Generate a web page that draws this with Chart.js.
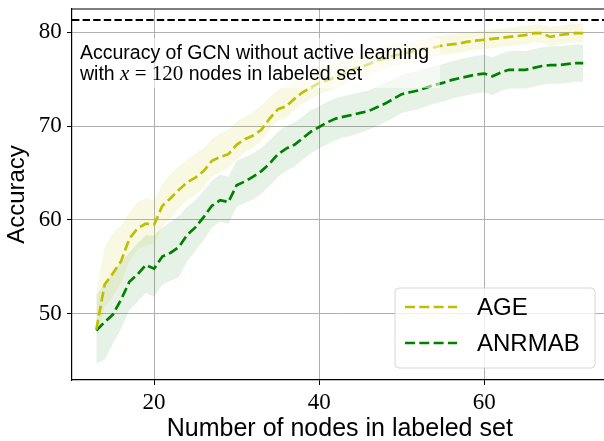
<!DOCTYPE html>
<html>
<head>
<meta charset="utf-8">
<script src="https://cdn.jsdelivr.net/npm/chart.js@4.4.0/dist/chart.umd.min.js"></script>
<style>
  html, body { margin: 0; padding: 0; background: #fff; overflow: hidden; }
  #wrap { width: 612px; height: 441px; }
</style>
</head>
<body>
<div id="wrap"><canvas id="chart" width="612" height="441"></canvas></div>
<script>
// DATA

const nodes = [
  13, 14, 15, 16, 17, 18, 19, 20, 21, 22, 23, 24, 25, 26, 27, 28, 29, 30, 31, 32,
  33, 34, 35, 36, 37, 38, 39, 40, 41, 42, 43, 44, 45, 46, 47, 48, 49, 50, 51, 52,
  53, 54, 55, 56, 57, 58, 59, 60, 61, 62, 63, 64, 65, 66, 67, 68, 69, 70, 71, 72,
];

const ageMean = [
  48.3, 53.1, 54.3, 55.6, 58.0, 59.1, 59.6, 59.5, 61.5, 62.3, 63.2, 64.0, 64.5, 65.2, 66.3, 66.7, 67.0, 68.0, 68.6, 69.0,
  69.6, 70.8, 71.8, 72.1, 72.9, 73.6, 74.1, 74.6, 74.9, 75.2, 75.6, 76.0, 76.3, 76.6, 77.0, 77.2, 77.5, 77.7, 77.9, 78.1,
  78.3, 78.4, 78.6, 78.7, 78.8, 79.0, 79.1, 79.2, 79.3, 79.4, 79.5, 79.6, 79.7, 79.9, 79.9, 79.5, 79.7, 79.8, 79.9, 79.9,
];

const ageUpper = [
  52.2, 57.1, 58.6, 59.4, 60.8, 61.9, 62.3, 62.1, 63.8, 64.9, 65.7, 66.4, 67.1, 67.6, 68.6, 69.2, 69.6, 70.5, 71.0, 71.5,
  72.2, 73.1, 73.9, 74.3, 74.9, 75.5, 75.9, 76.3, 76.6, 76.9, 77.2, 77.5, 77.8, 78.0, 78.3, 78.5, 78.7, 78.9, 79.1, 79.2,
  79.4, 79.5, 79.7, 79.8, 79.9, 80.0, 80.1, 80.2, 80.3, 80.4, 80.5, 80.6, 80.7, 80.8, 80.8, 80.6, 80.7, 80.8, 80.9, 80.9,
];

const ageLower = [
  47.5, 50.6, 51.8, 53.3, 55.6, 56.8, 57.3, 57.4, 59.3, 60.2, 61.2, 62.1, 62.7, 63.4, 64.6, 65.1, 65.5, 66.5, 67.2, 67.7,
  68.4, 69.6, 70.6, 70.9, 71.7, 72.4, 72.9, 73.4, 73.7, 74.0, 74.4, 74.8, 75.1, 75.4, 75.8, 76.1, 76.4, 76.6, 76.8, 77.0,
  77.2, 77.4, 77.6, 77.7, 77.8, 78.0, 78.1, 78.2, 78.3, 78.4, 78.5, 78.6, 78.7, 78.9, 78.9, 78.5, 78.7, 78.8, 78.9, 78.9,
];

const anrmabMean = [
  48.2, 49.1, 49.9, 51.5, 53.4, 54.2, 55.2, 54.8, 56.1, 56.5, 57.1, 58.4, 59.2, 60.3, 61.5, 62.1, 61.9, 63.7, 64.1, 64.6,
  65.2, 66.0, 67.0, 67.6, 68.0, 68.7, 69.4, 69.9, 70.4, 70.8, 71.0, 71.2, 71.4, 71.6, 72.0, 72.4, 72.9, 73.4, 73.6, 73.8,
  74.1, 74.4, 74.6, 74.9, 75.1, 75.3, 75.5, 75.6, 75.3, 75.7, 76.0, 76.0, 76.0, 76.2, 76.4, 76.5, 76.5, 76.6, 76.7, 76.7,
];

const anrmabUpper = [
  52.0, 53.2, 54.3, 55.6, 56.5, 57.5, 58.4, 58.3, 59.2, 59.8, 60.4, 61.4, 62.1, 63.1, 64.2, 64.8, 64.6, 66.3, 66.7, 67.1,
  67.7, 68.5, 69.4, 70.0, 70.4, 71.0, 71.7, 72.1, 72.6, 73.0, 73.2, 73.4, 73.6, 73.8, 74.2, 74.6, 75.0, 75.5, 75.7, 75.9,
  76.2, 76.4, 76.6, 76.9, 77.1, 77.3, 77.5, 77.6, 77.3, 77.7, 78.0, 78.0, 78.0, 78.2, 78.4, 78.5, 78.5, 78.6, 78.7, 78.7,
];

const anrmabLower = [
  44.7, 45.1, 46.8, 48.4, 50.4, 51.3, 52.2, 51.8, 53.1, 53.5, 53.9, 55.6, 56.7, 57.8, 59.2, 59.8, 59.6, 61.4, 61.8, 62.2,
  62.8, 63.6, 64.6, 65.2, 65.7, 66.4, 67.1, 67.6, 68.1, 68.5, 68.8, 69.0, 69.3, 69.6, 70.0, 70.4, 70.9, 71.4, 71.6, 71.8,
  72.1, 72.4, 72.6, 72.9, 73.1, 73.3, 73.5, 73.6, 73.3, 73.7, 74.0, 74.0, 74.0, 74.2, 74.4, 74.5, 74.5, 74.6, 74.7, 74.7,
];

// accuracy of GCN without active learning (x = 120)
const gcnFullAccuracy = 81.3;

const xTicks = [20, 40, 60];
const yTicks = [50, 60, 70, 80];

const xMin = 10.05;
const xMax = 74.95;
const yMin = 42.93;
const yMax = 82.48;

// STYLE

const SANS = '"Liberation Sans", Arial, sans-serif';
const SERIF = '"Liberation Serif", "DejaVu Serif", serif';

const ageColor = '#bfbf00';
const anrmabColor = '#008000';

const toPoints = values =>
  values.map(
    (v, i) => ({ x: nodes[i], y: v })
  );

// no extra room for the edge tick labels
const noEdgePadding = scale => {
  scale.paddingTop = 0;
  scale.paddingBottom = 0;
  scale.paddingLeft = 0;
  scale.paddingRight = 0;
};

// PLUGINS

const framePlugin = {
  id: 'frame',
  afterDraw(chart) {
    const ctx = chart.ctx;
    const { left, right, top, bottom } = chart.chartArea;

    ctx.save();
    ctx.strokeStyle = '#000';
    ctx.lineWidth = 1.2;
    ctx.beginPath();
    ctx.moveTo(left, top);
    ctx.lineTo(right, top);
    ctx.lineTo(right, bottom);
    ctx.stroke();
    ctx.restore();
  },
};

const notePlugin = {
  id: 'note',
  afterDatasetsDraw(chart) {
    const ctx = chart.ctx;

    ctx.save();

    // half transparent box behind the text
    ctx.fillStyle = 'rgba(255,255,255,0.55)';
    ctx.fillRect(75, 38, 365, 50);

    ctx.fillStyle = '#000';
    ctx.textBaseline = 'alphabetic';

    ctx.font = `19.5px ${SANS}`;
    ctx.fillText(
      'Accuracy of GCN without active learning',
      80,
      58.5
    );

    // second line with math part
    let x = 80;
    const y = 79.5;

    const parts = [
      { text: 'with ', font: `19.5px ${SANS}` },
      { text: 'x', font: `italic 21px ${SERIF}` },
      { text: ' = ', font: `21px ${SERIF}` },
      { text: '120', font: `21px ${SERIF}` },
      { text: ' nodes in labeled set', font: `19.5px ${SANS}` },
    ];

    parts.forEach(part => {
      ctx.font = part.font;
      ctx.fillText(part.text, x, y);
      x += ctx.measureText(part.text).width;
    });

    ctx.restore();
  },
};

const legendPlugin = {
  id: 'boxLegend',
  afterDraw(chart) {
    const ctx = chart.ctx;

    const entries = chart.data.datasets.filter(
      ds => ds.inLegend
    );

    ctx.save();

    // frame
    const bx = 395;
    const by = 288;
    const bw = 200;
    const bh = 80;
    const r = 4;

    ctx.beginPath();
    ctx.moveTo(bx + r, by);
    ctx.arcTo(bx + bw, by, bx + bw, by + bh, r);
    ctx.arcTo(bx + bw, by + bh, bx, by + bh, r);
    ctx.arcTo(bx, by + bh, bx, by, r);
    ctx.arcTo(bx, by, bx + bw, by, r);
    ctx.closePath();
    ctx.fillStyle = 'rgba(255,255,255,0.8)';
    ctx.fill();
    ctx.strokeStyle = '#d6d6d6';
    ctx.lineWidth = 1;
    ctx.stroke();

    entries.forEach((ds, i) => {
      const rowY = 307 + i * 36;

      ctx.strokeStyle = ds.borderColor;
      ctx.lineWidth = ds.borderWidth;
      ctx.setLineDash(ds.borderDash);
      ctx.beginPath();
      ctx.moveTo(405, rowY);
      ctx.lineTo(457, rowY);
      ctx.stroke();
      ctx.setLineDash([]);

      ctx.fillStyle = '#000';
      ctx.font = `24px ${SANS}`;
      ctx.textBaseline = 'middle';
      ctx.fillText(ds.label, 477, rowY + 1);
    });

    ctx.restore();
  },
};

// CHART

new Chart(
  document.getElementById('chart'),
  {
    type: 'line',

    data: {
      datasets: [
        {
          label: 'AGE',
          inLegend: true,
          data: toPoints(ageMean),
          borderColor: ageColor,
          borderWidth: 2.7,
          borderDash: [10, 4.3],
          pointRadius: 0,
          fill: false,
        },
        {
          label: 'ANRMAB',
          inLegend: true,
          data: toPoints(anrmabMean),
          borderColor: anrmabColor,
          borderWidth: 2.7,
          borderDash: [10, 4.3],
          pointRadius: 0,
          fill: false,
        },
        {
          label: 'GCN',
          data: [
            { x: xMin, y: gcnFullAccuracy },
            { x: xMax, y: gcnFullAccuracy },
          ],
          borderColor: '#000',
          borderWidth: 2,
          borderDash: [7.4, 3.2],
          pointRadius: 0,
          fill: false,
        },
        {
          label: 'AGE upper',
          data: toPoints(ageUpper),
          borderWidth: 0,
          borderColor: 'rgba(0,0,0,0)',
          backgroundColor: 'rgba(191,191,0,0.11)',
          pointRadius: 0,
          fill: '+1',
        },
        {
          label: 'AGE lower',
          data: toPoints(ageLower),
          borderWidth: 0,
          borderColor: 'rgba(0,0,0,0)',
          pointRadius: 0,
          fill: false,
        },
        {
          label: 'ANRMAB upper',
          data: toPoints(anrmabUpper),
          borderWidth: 0,
          borderColor: 'rgba(0,0,0,0)',
          backgroundColor: 'rgba(0,128,0,0.1)',
          pointRadius: 0,
          fill: '+1',
        },
        {
          label: 'ANRMAB lower',
          data: toPoints(anrmabLower),
          borderWidth: 0,
          borderColor: 'rgba(0,0,0,0)',
          pointRadius: 0,
          fill: false,
        },
      ],
    },

    options: {
      responsive: false,
      animation: false,
      devicePixelRatio: 1,

      layout: {
        padding: { top: 9, right: 4.4, left: 0, bottom: 0 },
      },

      plugins: {
        legend: { display: false },
        tooltip: { enabled: false },
      },

      scales: {
        x: {
          type: 'linear',
          min: xMin,
          max: xMax,
          afterBuildTicks: axis => {
            axis.ticks = xTicks.map(v => ({ value: v }));
          },
          afterFit: scale => {
            scale.height = 61;
            noEdgePadding(scale);
          },
          ticks: {
            color: '#000',
            font: { family: SERIF, size: 23 },
            padding: 4,
            maxRotation: 0,
          },
          grid: {
            color: '#b0b0b0',
            lineWidth: 1,
            tickLength: 5,
            tickColor: '#000',
          },
          border: { color: '#000', width: 1.2 },
          title: {
            display: true,
            text: 'Number of nodes in labeled set',
            color: '#000',
            font: { family: SANS, size: 25 },
            padding: { top: 0, bottom: -3 },
          },
        },

        y: {
          min: yMin,
          max: yMax,
          afterBuildTicks: axis => {
            axis.ticks = yTicks.map(v => ({ value: v }));
          },
          afterFit: scale => {
            scale.width = 72;
            noEdgePadding(scale);
          },
          ticks: {
            color: '#000',
            font: { family: SERIF, size: 23 },
            padding: 5.3,
          },
          grid: {
            color: '#b0b0b0',
            lineWidth: 1,
            tickLength: 5,
            tickColor: '#000',
          },
          border: { color: '#000', width: 1.2 },
          title: {
            display: true,
            text: 'Accuracy',
            color: '#000',
            font: { family: SANS, size: 24 },
            padding: { top: 3, bottom: 0 },
          },
        },
      },
    },

    plugins: [framePlugin, notePlugin, legendPlugin],
  }
);
</script>
</body>
</html>
